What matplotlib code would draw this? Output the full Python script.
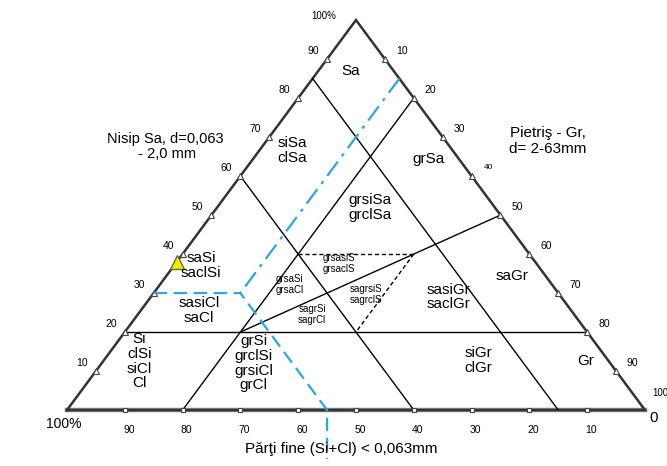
import numpy as np
import matplotlib.pyplot as plt

plt.rcParams['font.family'] = ['Liberation Sans Narrow', 'Liberation Sans', 'DejaVu Sans']

# ternary points are (fines, sand, gravel) fractions
solid_lines = [
    [(0.15, 0.85, 0.0), (0.15, 0.0, 0.85)],
    [(0.40, 0.60, 0.0), (0.40, 0.0, 0.60)],
    [(0.80, 0.0, 0.20), (0.0, 0.80, 0.20)],
    [(0.80, 0.20, 0.0), (0.0, 0.20, 0.80)],
    [(0.60, 0.20, 0.20), (0.0, 0.50, 0.50)],
]
dashed_lines = [
    [(0.40, 0.40, 0.20), (0.20, 0.40, 0.40)],
    [(0.20, 0.40, 0.40), (0.40, 0.20, 0.40)],
]
blue_dashdot = [(0.0, 0.85, 0.15), (0.55, 0.30, 0.15)]
blue_dashed = [(0.70, 0.30, 0.0), (0.55, 0.30, 0.15), (0.55, 0.0, 0.45)]
sample = (0.62, 0.38, 0.0)

region_names = ["Sa", "siSa\nclSa", "grSa", "grsiSa\ngrclSa", "saSi\nsaclSi",
                "sasiCl\nsaCl", "sasiGr\nsaclGr", "saGr", "Si\nclSi\nsiCl\nCl",
                "grSi\ngrclSi\ngrsiCl\ngrCl", "siGr\nclGr", "Gr"]
region_pos = [(0.49, 0.87), (0.39, 0.665), (0.625, 0.645), (0.525, 0.52), (0.232, 0.37),
              (0.228, 0.255), (0.66, 0.29), (0.77, 0.345), (0.125, 0.125),
              (0.323, 0.12), (0.712, 0.127), (0.897, 0.127)]
small_names = ["grsasiS\ngrsaclS", "grsaSi\ngrsaCl", "sagrsiS\nsagrclS", "sagrSi\nsagrCl"]
small_pos = [(0.47, 0.375), (0.385, 0.322), (0.517, 0.296), (0.424, 0.246)]

ticks = [10, 20, 30, 40, 50, 60, 70, 80, 90]


def xy(p):
    f, s, g = p
    return g + s / 2.0, s


fig = plt.figure(figsize=(6.67, 4.66), dpi=100)
ax = fig.add_axes([0.1004, 0.12, 0.8666, 0.837])
ax.set_xlim(0, 1)
ax.set_ylim(0, 1)
ax.axis('off')

# outline
corners = [(1, 0, 0), (0, 1, 0), (0, 0, 1), (1, 0, 0)]
cx, cy = zip(*[xy(c) for c in corners])
ax.plot(cx, cy, color='#333333', lw=1.8, clip_on=False, solid_joinstyle='miter')
ax.plot([0, 1], [0, 0], color='#888888', lw=3.2, clip_on=False, zorder=1)

for a, b in solid_lines:
    (x1, y1), (x2, y2) = xy(a), xy(b)
    ax.plot([x1, x2], [y1, y2], color='black', lw=1.0)
for a, b in dashed_lines:
    (x1, y1), (x2, y2) = xy(a), xy(b)
    ax.plot([x1, x2], [y1, y2], color='black', lw=1.0, ls=(0, (3, 2)))

blue = '#2aa6e0'
bx, by = zip(*[xy(p) for p in blue_dashdot])
ax.plot(bx, by, color=blue, lw=1.6, ls=(0, (8, 3, 1.5, 3)))
bx, by = zip(*[xy(p) for p in blue_dashed])
bx = list(bx) + [bx[-1]]
by = list(by) + [-0.125]
ax.plot(bx, by, color=blue, lw=1.6, ls=(0, (6, 3)), clip_on=False, zorder=3)

# tick marks and labels
for t in ticks:
    v = t / 100.0
    # left edge (sand)
    x, y = xy((1 - v, v, 0))
    ax.plot(x, y, marker='^', ms=4, mfc='white', mec='#444444', mew=0.8, clip_on=False)
    ax.annotate(str(t), (x, y), xytext=(-10, 6), textcoords='offset points',
                ha='center', va='center', fontsize=7.5)
    # right edge (gravel)
    x, y = xy((0, 1 - v, v))
    ax.plot(x, y, marker='^', ms=4, mfc='white', mec='#444444', mew=0.8, clip_on=False)
    ax.annotate(str(t), (x, y), xytext=(12, 6), textcoords='offset points',
                ha='center', va='center', fontsize=7.5 if t != 40 else 6)
    # bottom edge (fines)
    x, y = xy((v, 0, 1 - v))
    ax.plot(x, y, marker='s', ms=3.5, mfc='white', mec='#444444', mew=0.8, clip_on=False)
    ax.annotate(str(t), (x, y), xytext=(3, -14), textcoords='offset points',
                ha='center', va='center', fontsize=7.5)

ax.text(0.465, 1.01, "100%", ha='right', va='center', fontsize=7)
ax.text(1.012, 0.045, "100", ha='left', va='center', fontsize=7)
ax.text(-0.005, -0.035, "100%", ha='center', va='center', fontsize=10)
ax.text(1.015, -0.02, "0", ha='center', va='center', fontsize=11)

for name, (x, y) in zip(region_names, region_pos):
    ax.text(x, y, name, ha='center', va='center', fontsize=11, linespacing=1.05)
for name, (x, y) in zip(small_names, small_pos):
    ax.text(x, y, name, ha='center', va='center', fontsize=7, linespacing=1.1)

ax.text(0.17, 0.675, "Nisip Sa, d=0,063\n - 2,0 mm", ha='center', va='center',
        fontsize=10.5, linespacing=1.1)
ax.text(0.832, 0.69, "Pietriş - Gr,\nd= 2-63mm", ha='center', va='center',
        fontsize=11, linespacing=1.1)
ax.text(0.475, -0.1, "Părţi fine (Si+Cl) < 0,063mm", ha='center', va='center', fontsize=11)

sx, sy = xy(sample)
ax.plot(sx, sy, marker='^', ms=10, mfc='#f2ea00', mec='#6b6b3a', mew=1.0, clip_on=False)

fig.savefig('out.png', dpi=100)
